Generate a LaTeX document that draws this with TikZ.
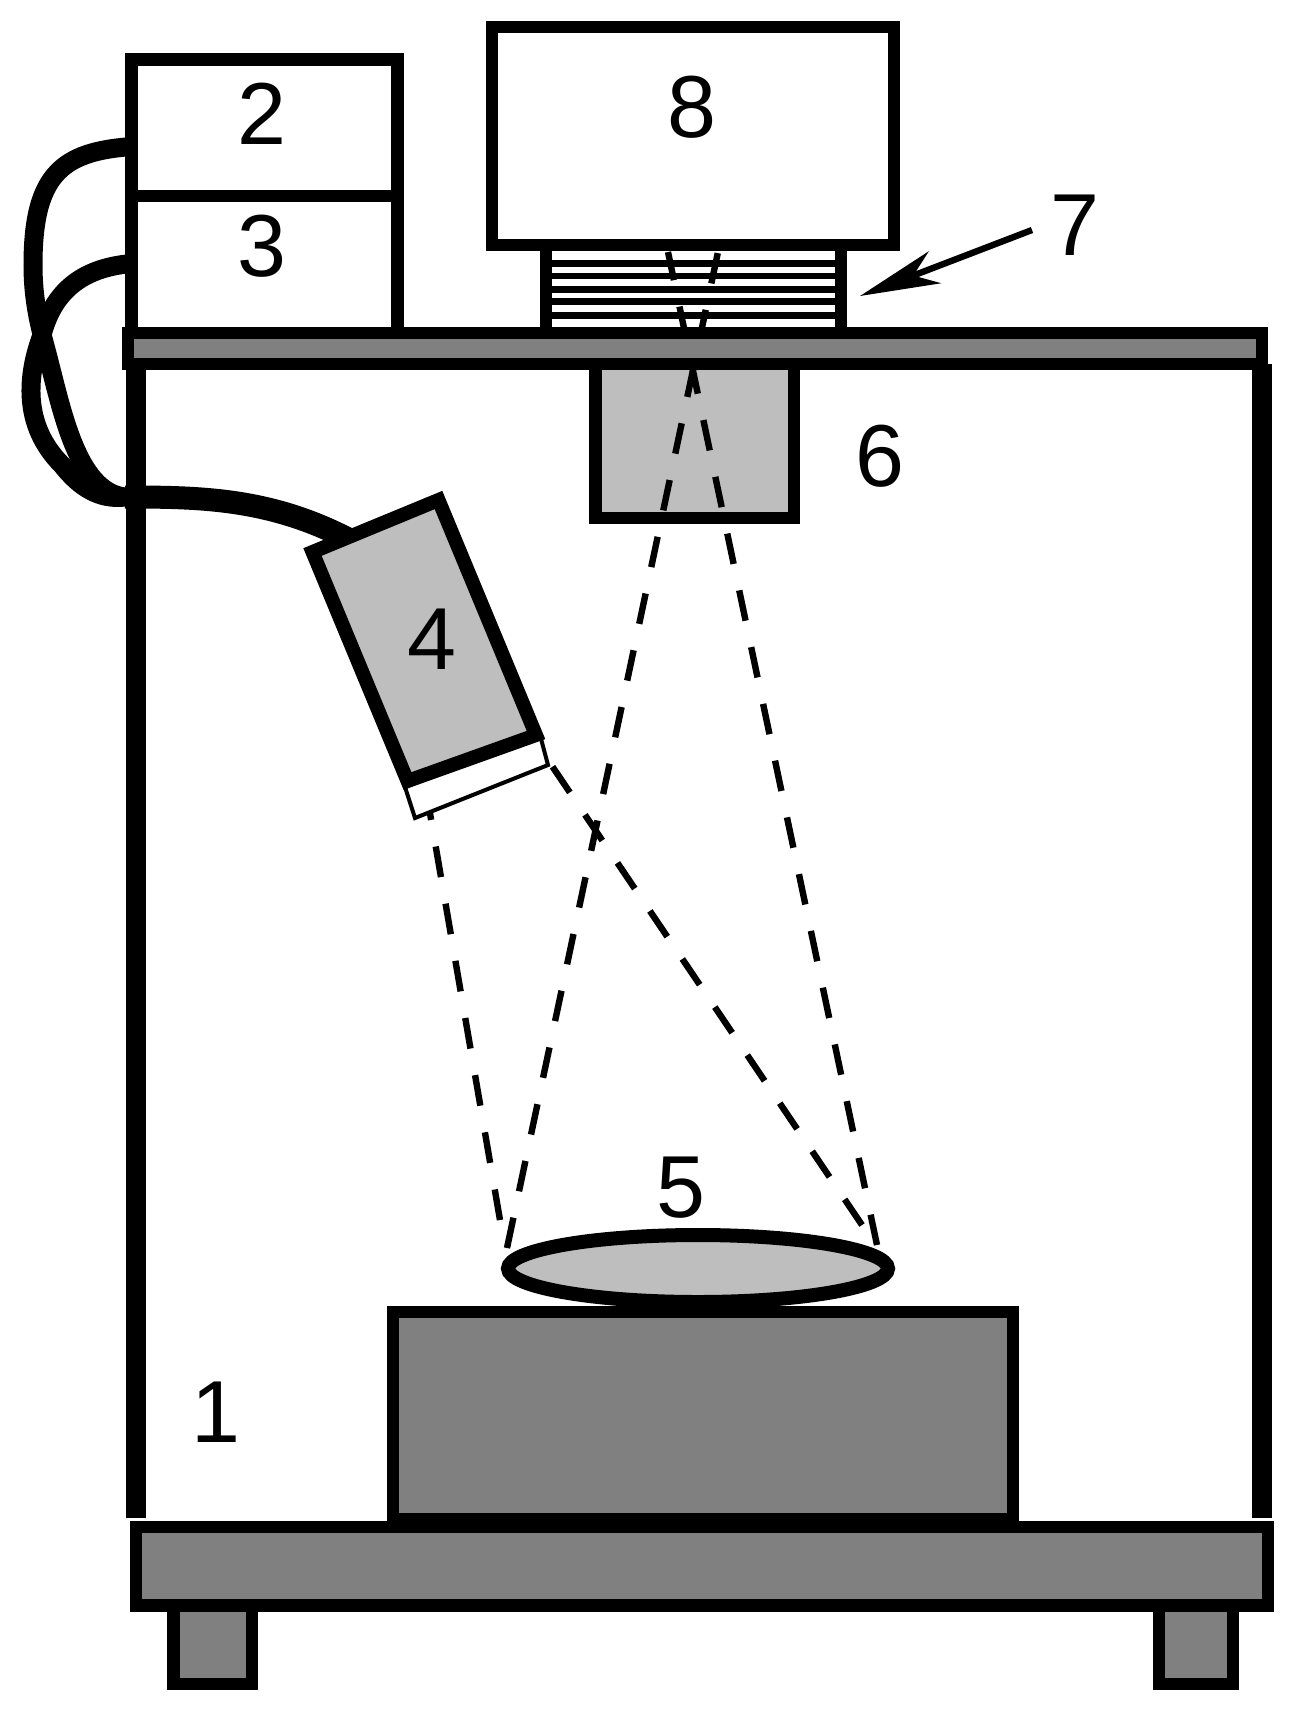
\documentclass[tikz,border=0pt]{standalone}
\usepackage{fontspec}
\setmainfont{Liberation Sans}
\usetikzlibrary{arrows.meta}
\definecolor{darkfill}{HTML}{808080}
\definecolor{lightfill}{HTML}{BEBEBE}
\begin{document}
\begin{tikzpicture}[x=0.5pt,y=-0.5pt]
        \tikzstyle{unit}=[draw=black,line width=6.3pt,fill=white]
        \tikzstyle{graybox}=[unit,fill=lightfill]
        \tikzstyle{steel}=[unit,fill=darkfill]
        \tikzstyle{wall}=[draw=black,line width=10pt]
        \tikzstyle{cable}=[draw=black,line width=9.5pt]
        \tikzstyle{slat}=[draw=black,line width=3.4pt]
        \tikzstyle{filter}=[draw=black,line width=2pt,fill=white]
        \tikzstyle{beam}=[draw=black,line width=3.2pt,dash pattern=on 15.5pt off 13.5pt]
        \tikzstyle{digit}=[font=\fontsize{44pt}{44pt}\selectfont,inner sep=0pt]
        \useasboundingbox (0,0) rectangle (1299,1721);
        % end points of cables and beams
        \coordinate (out2) at (140,146);
        \coordinate (out3) at (140,263);
        \coordinate (join) at (125,497);
        \coordinate (lampin) at (350,540);
        \coordinate (lensa) at (507,1248);
        \coordinate (topa) at (718,252);
        \coordinate (lensb) at (877,1245);
        \coordinate (topb) at (668,252);
        \coordinate (lensc) at (500,1220);
        \coordinate (lampc) at (426,790);
        \coordinate (lensd) at (862,1225);
        \coordinate (lampd) at (550,763);
        \coordinate (tail7) at (1032,230);
        \coordinate (tip7) at (860,296);
        % cables
        \draw[cable] (out2) .. controls (65,150) and (33,170) .. (33,265)
           .. controls (33,310) and (44,340) .. (50,365)
           .. controls (64,420) and (80,492) .. (join);
        \draw[cable] (out3) .. controls (90,265) and (55,285) .. (42,335)
           .. controls (27,375) and (22,425) .. (62,465)
           .. controls (80,488) and (100,500) .. (join);
        \draw[draw=black,line width=11.5pt] (join) .. controls (200,497) and (270,498) .. (lampin);
        % units on the table
        \draw[unit] (131.5,59.5) rectangle (397.5,196);
        \draw[unit] (131.5,196) rectangle (397.5,333);
        \draw[unit] (546,240) rectangle (841,333);
        \foreach \y in {263.8,276,289.3,301.8,315.3} {
          \draw[slat] (546,\y) -- (841,\y);
        }
        \draw[graybox] (595.5,364) rectangle (794,518);
        % beams
        \draw[beam] (lensa) -- (topa);
        \draw[beam] (lensb) -- (topb);
        \draw[beam] (lensc) -- (lampc);
        \draw[beam] (lensd) -- (lampd);
        \draw[unit] (492,27) rectangle (894,245);
        % frame
        \draw[wall] (136,364) -- (136,1518);
        \draw[wall] (1262,364) -- (1262,1518);
        \draw[steel] (128,333) rectangle (1262,364);
        % lamp
        \draw[filter] (405,787) -- (415,818) -- (548,765) -- (540,735) -- cycle;
        \draw[graybox,line width=7pt] (312.5,552) -- (438.5,500) -- (536,735) -- (407.5,781) -- cycle;
        % stage
        \draw[steel] (173.5,1605) rectangle (252,1684);
        \draw[steel] (1159,1605) rectangle (1233,1684);
        \draw[steel] (393,1312) rectangle (1013,1519);
        \draw[steel] (136,1527) rectangle (1268,1605.5);
        \draw[graybox,line width=7pt] (698,1268.5) ellipse (190 and 33.5);
        \draw[draw=black,line width=3.2pt,-{Stealth[length=40pt,width=17pt,inset=11.5pt]}] (tail7) -- (tip7);
        % labels
        \node[digit] (lab1) at (216,1412) {1};
        \node[digit] (lab2) at (262,114) {2};
        \node[digit] (lab3) at (262,246) {3};
        \node[digit] (lab4) at (432,639) {4};
        \node[digit] (lab5) at (681,1188) {5};
        \node[digit] (lab6) at (880,456) {6};
        \node[digit] (lab7) at (1075,225) {7};
        \node[digit] (lab8) at (692,107) {8};
\end{tikzpicture}
\end{document}
